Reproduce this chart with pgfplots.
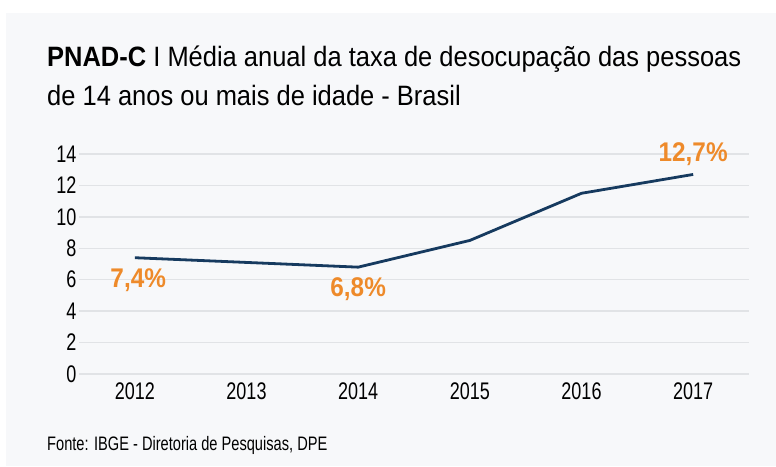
\documentclass[border=0pt]{standalone}
\usepackage{fontspec}
\setmainfont{Liberation Sans}
\newfontfamily\condfont[FakeStretch=0.75]{Liberation Sans}
\newfontfamily\titlefont[FakeStretch=0.91]{Liberation Sans}
\newfontfamily\lblfont[FakeStretch=0.9]{Liberation Sans Bold}
\usepackage{pgfplots}
\pgfplotsset{compat=1.18}

\definecolor{panel}{HTML}{F7F8FA}
\definecolor{gridc}{HTML}{E1E3E6}
\definecolor{navy}{HTML}{163A5F}
\definecolor{lbl}{HTML}{EE8A2A}

\begin{document}
\begin{tikzpicture}
  \useasboundingbox (0,0) rectangle (776pt,-466pt);
  \fill[white] (0,0) rectangle (776pt,-466pt);
  \fill[panel] (6pt,-13pt) rectangle (776pt,-466pt);

  % title
  \node[anchor=base west, inner sep=0pt] at (47pt,-66pt)
    {\titlefont\fontsize{28}{32}\selectfont\textbf{PNAD-C} I Média anual da taxa de desocupação das pessoas};
  \node[anchor=base west, inner sep=0pt] at (47pt,-105pt)
    {\titlefont\fontsize{28}{32}\selectfont de 14 anos ou mais de idade - Brasil};

  \begin{axis}[
      at={(79pt,-374pt)}, anchor=south west,
      scale only axis, width=670pt, height=220pt,
      xmin=-0.5, xmax=5.5, ymin=0, ymax=14,
      xtick={0,...,5},
      xticklabels={2012,2013,2014,2015,2016,2017},
      ytick={0,2,...,14},
      axis line style={draw=none},
      major tick length=0pt,
      ymajorgrids, grid style={draw=gridc, line width=1.3pt},
      /pgf/number format/assume math mode=true,
      tick label style={font=\condfont\fontsize{24}{26}\selectfont, text=black},
      xticklabel style={yshift=-5pt},
      yticklabel style={xshift=1pt},
      clip=false,
    ]
    \addplot[navy, line width=2.8pt, line join=round, mark=none]
      coordinates {(0,7.4) (1,7.1) (2,6.8) (3,8.5) (4,11.5) (5,12.7)};

    \node[text=lbl, font=\lblfont\fontsize{27}{30}\selectfont] at (axis cs:0.03,5.95) {7,4\%};
    \node[text=lbl, font=\lblfont\fontsize{27}{30}\selectfont] at (axis cs:2,5.4) {6,8\%};
    \node[text=lbl, font=\lblfont\fontsize{27}{30}\selectfont] at (axis cs:5,14) {12,7\%};
  \end{axis}

  \node[anchor=base west, inner sep=0pt] at (47pt,-450pt)
    {\condfont\fontsize{19.5}{22}\selectfont Fonte: IBGE - Diretoria de Pesquisas, DPE};
\end{tikzpicture}
\end{document}
